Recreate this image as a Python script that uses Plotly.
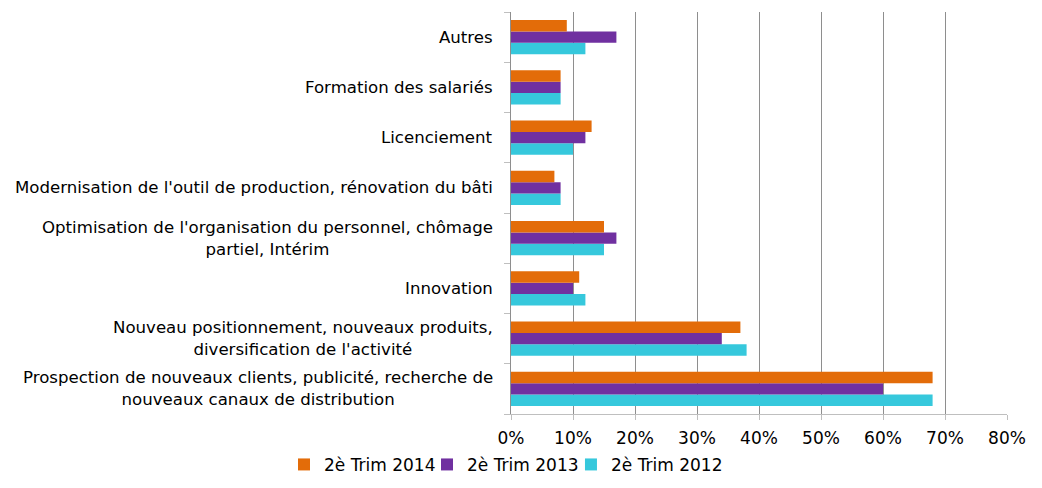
import plotly.graph_objects as go

categories = [
    "Prospection de nouveaux clients, publicité, recherche de<br>nouveaux canaux de distribution",
    "Nouveau positionnement, nouveaux produits,<br>diversification de l'activité",
    "Innovation",
    "Optimisation de l'organisation du personnel, chômage<br>partiel, Intérim",
    "Modernisation de l'outil de production, rénovation du bâti",
    "Licenciement",
    "Formation des salariés",
    "Autres",
]
trim2014 = [0.68, 0.37, 0.11, 0.15, 0.07, 0.13, 0.08, 0.09]
trim2013 = [0.60, 0.34, 0.10, 0.17, 0.08, 0.12, 0.08, 0.17]
trim2012 = [0.68, 0.38, 0.12, 0.15, 0.08, 0.10, 0.08, 0.12]
series_names = ["2è Trim 2014", "2è Trim 2013", "2è Trim 2012"]
colors = ["#E36C09", "#7030A0", "#36C8DC"]
x_ticks = [0, 0.1, 0.2, 0.3, 0.4, 0.5, 0.6, 0.7, 0.8]

FONT = "DejaVu Sans, Liberation Sans, Arial, sans-serif"
legend_ids = ["legend", "legend2", "legend3"]
legend_x = [0.269, 0.4084, 0.5487]

fig = go.Figure()
# add in reverse so 2014 appears on top inside each group
for name, vals, col, lid in reversed(list(zip(series_names, [trim2014, trim2013, trim2012], colors, legend_ids))):
    fig.add_trace(go.Bar(y=categories, x=vals, name=name, orientation="h", legend=lid,
                         marker=dict(color=col, line=dict(width=0))))

# category labels as centred multi-line annotations (like the original)
for cat in categories:
    fig.add_annotation(x=0, xref="paper", y=cat, yref="y", text=cat,
                       xanchor="right", yanchor="middle", align="center",
                       xshift=-16, showarrow=False,
                       font=dict(family=FONT, size=16.6, color="#000000"))

legend_common = dict(orientation="h", xanchor="left", xref="container",
                     y=0.032, yanchor="middle", yref="container",
                     font=dict(family=FONT, size=17), itemwidth=30,
                     bgcolor="rgba(0,0,0,0)")
fig.update_layout(
    width=1026, height=472,
    barmode="group", bargap=0.32, bargroupgap=0,
    paper_bgcolor="white", plot_bgcolor="white",
    margin=dict(l=503, r=27, t=4, b=66),
    font=dict(family=FONT, size=17, color="#000000"),
    legend=dict(x=legend_x[0], **legend_common),
    legend2=dict(x=legend_x[1], **legend_common),
    legend3=dict(x=legend_x[2], **legend_common),
    showlegend=True,
)
fig.update_xaxes(range=[0, 0.8], tickvals=x_ticks, tickformat=".0%",
                 showgrid=True, gridcolor="#8E8E8E", gridwidth=1,
                 showline=True, linecolor="#BFBFBF", linewidth=1,
                 ticks="outside", ticklen=5, tickcolor="#BFBFBF",
                 ticklabelstandoff=4,
                 zeroline=False, fixedrange=True, automargin=False)
fig.update_yaxes(categoryorder="array", categoryarray=categories,
                 showticklabels=False,
                 showline=True, linecolor="#8E8E8E", linewidth=1,
                 ticks="outside", ticklen=6, tickcolor="#BFBFBF",
                 tickson="boundaries", showgrid=False, fixedrange=True,
                 automargin=False)

fig.write_html("out.html")
